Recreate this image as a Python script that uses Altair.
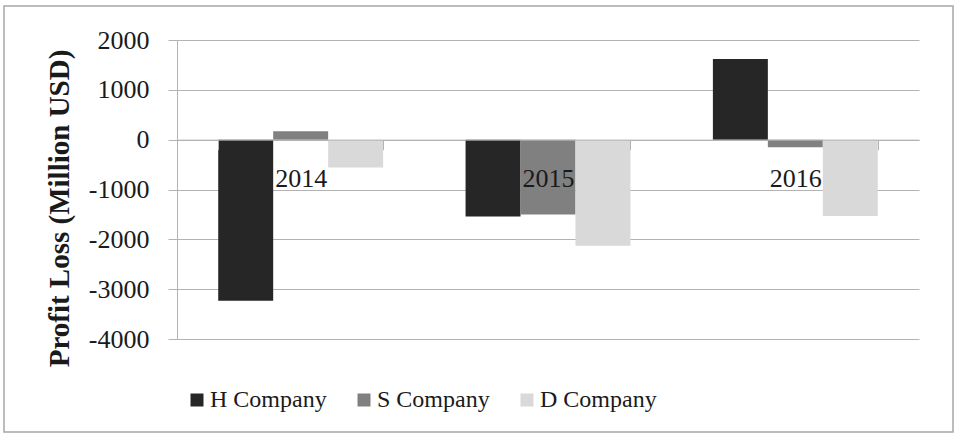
import altair as alt
import pandas as pd

years = ["2014", "2015", "2016"]
companies = ["H Company", "S Company", "D Company"]
h_values = [-3230, -1540, 1620]
s_values = [170, -1500, -150]
d_values = [-560, -2130, -1530]
colors = ["#262626", "#808080", "#d9d9d9"]
y_ticks = [-4000, -3000, -2000, -1000, 0, 1000, 2000]

rows = []
for comp, vals in zip(companies, [h_values, s_values, d_values]):
    for yr, v in zip(years, vals):
        rows.append({"Year": yr, "Company": comp, "Value": v})
df = pd.DataFrame(rows)

W, H = 742, 299
YMIN, YMAX = -4000, 2000
FONT = "Liberation Serif"
GRID = "#b3b3b3"

zero_offset = -H * (0 - YMIN) / (YMAX - YMIN)

bars = alt.Chart(df).mark_bar().encode(
    x=alt.X(
        "Year:N", sort=years,
        scale=alt.Scale(paddingInner=1 / 3, paddingOuter=1 / 6),
        axis=alt.Axis(
            title=None, labelAngle=0, offset=zero_offset, tickBand="extent",
            tickSize=10, tickColor=GRID, domainColor=GRID, labelFont=FONT,
            labelFontSize=26, labelColor="#1a1a1a", labelPadding=16, zindex=1,
            grid=False,
        ),
    ),
    xOffset=alt.XOffset("Company:N", sort=companies,
                        scale=alt.Scale(paddingInner=0, paddingOuter=0)),
    y=alt.Y(
        "Value:Q", stack=None,
        scale=alt.Scale(domain=[YMIN, YMAX], nice=False),
        axis=alt.Axis(
            values=y_ticks, labelExpr="'' + datum.value",
            grid=True, gridColor=GRID, domainColor=GRID,
            tickColor=GRID, tickSize=9, labelPadding=19, labelFont=FONT,
            labelFontSize=26, labelColor="#1a1a1a",
            title="Profit Loss (Million USD)", titleFont=FONT, titleFontSize=29,
            titleFontWeight="bold", titleColor="#1a1a1a",
            titleX=-109, titleY=168, titleBaseline="alphabetic",
        ),
    ),
    color=alt.Color(
        "Company:N", sort=companies,
        scale=alt.Scale(domain=companies, range=colors),
        legend=alt.Legend(
            orient="none", legendX=8, legendY=348, direction="horizontal",
            title=None, symbolType="square", symbolSize=169,
            symbolStrokeWidth=0, labelFont=FONT, labelFontSize=24,
            labelColor="#1a1a1a", labelOffset=1, columnPadding=25,
        ),
    ),
)

frame = alt.Chart(pd.DataFrame({"a": [0]})).mark_rect(
    filled=False, stroke="#a6a6a6", strokeWidth=1.5
).encode(
    x=alt.value(-173), x2=alt.value(776), y=alt.value(-34), y2=alt.value(392)
)

chart = alt.layer(bars, frame).properties(
    width=W, height=H,
    autosize=alt.AutoSizeParams(type="none"),
    padding={"left": 177, "top": 40, "right": 43, "bottom": 101},
    background="white",
).configure(font=FONT).configure_legend(
    labelFont=FONT
).configure_view(stroke=None)

chart.save("out.html", embed_options={"renderer": "svg", "actions": False})
